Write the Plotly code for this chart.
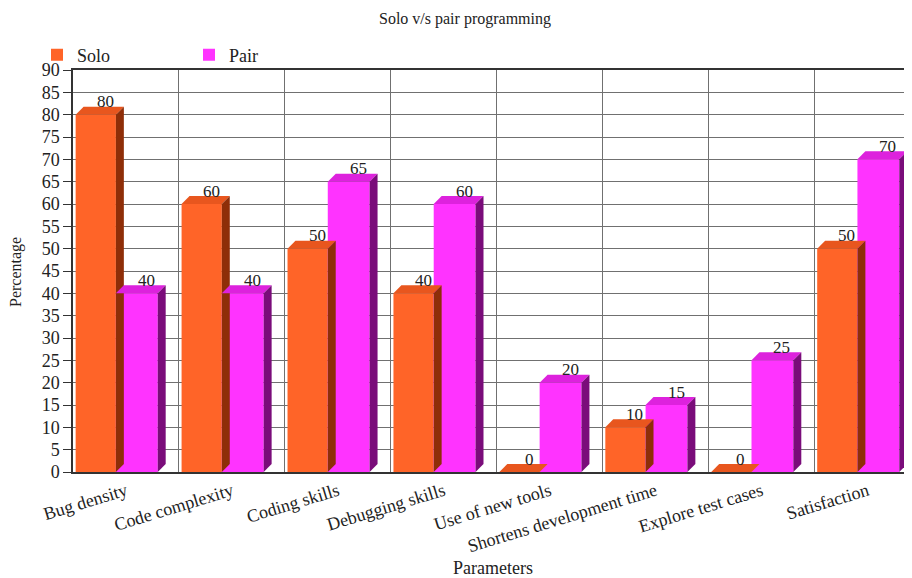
import plotly.graph_objects as go

categories = ["Bug density", "Code complexity", "Coding skills", "Debugging skills",
              "Use of new tools", "Shortens development time", "Explore test cases", "Satisfaction"]
solo = [80, 60, 50, 40, 0, 10, 0, 50]
pair = [40, 40, 65, 60, 20, 15, 25, 70]
y_ticks = list(range(0, 95, 5))

FONT = "Liberation Serif"
series = [
    # name, values, offset, width, front, top, side
    ("Solo", solo, -0.475, 0.38, "#FF6428", "#E8561E", "#8E2E08"),
    ("Pair", pair, -0.095, 0.395, "#FF33FF", "#DD22DD", "#7A0C7A"),
]
DX, DY = 0.075, 1.8

# page body adds an 8px offset; layout is expressed in figure pixels
L, T, PH = 65, 62, 402

fig = go.Figure()
shapes = []
annotations = []
for name, vals, off, wid, front, top, side in series:
    fig.add_trace(go.Bar(
        x=categories, y=vals, name=name, offset=off, width=wid,
        marker=dict(color=front, line=dict(width=0)),
    ))
    for i, v in enumerate(vals):
        x0 = i + off
        x1 = x0 + wid
        shapes.append(dict(
            type="path", xref="x", yref="y", layer="above",
            path=f"M {x0},{v} L {x0+DX},{v+DY} L {x1+DX},{v+DY} L {x1},{v} Z",
            fillcolor=top, line=dict(width=0),
        ))
        shapes.append(dict(
            type="path", xref="x", yref="y", layer="above",
            path=f"M {x1},0 L {x1+DX},{DY} L {x1+DX},{v+DY} L {x1},{v} Z",
            fillcolor=side, line=dict(width=0),
        ))
        annotations.append(dict(
            x=x0 + wid / 2 + 0.09, y=v, xref="x", yref="y", text=str(v),
            showarrow=False, yanchor="middle", yshift=13,
            font=dict(family=FONT, size=17, color="#222"),
        ))

annotations.append(dict(
    text="Parameters", x=0.5, y=-(560 - (T + PH)) / PH, xref="paper", yref="paper",
    showarrow=False, yanchor="middle", font=dict(family=FONT, size=18, color="#222"),
))
annotations.append(dict(
    text="Percentage", x=-(L - 8) / 839, y=(T + PH - 264) / PH, xref="paper", yref="paper",
    showarrow=False, xanchor="center", yanchor="middle", textangle=-90,
    font=dict(family=FONT, size=16, color="#222"),
))

fig.update_layout(
    width=912, height=578,
    margin=dict(l=L, r=8, t=T, b=578 - T - PH, autoexpand=False),
    paper_bgcolor="white", plot_bgcolor="white",
    barmode="overlay",
    font=dict(family=FONT, size=17, color="#222"),
    title=dict(text="Solo v/s pair programming", x=(465 - 8) / 912, xref="container", xanchor="center",
               y=1 - 10 / 578, yref="container", yanchor="middle",
               font=dict(family=FONT, size=16, color="#222")),
    legend=dict(orientation="h", x=29 / 912, y=1 - 47 / 578, xref="container", yref="container",
                xanchor="left", yanchor="middle",
                font=dict(family=FONT, size=18, color="#222"),
                itemwidth=30, entrywidth=107, entrywidthmode="pixels",
                bgcolor="rgba(0,0,0,0)"),
    shapes=shapes,
    annotations=annotations,
    xaxis=dict(
        range=[-0.5, 7.42], tickangle=-17, tickson="boundaries", automargin=False,
        showgrid=True, gridcolor="#707070", gridwidth=1,
        showline=True, linecolor="#333", linewidth=1.5, mirror=True,
        ticks="", tickfont=dict(family=FONT, size=18),
    ),
    yaxis=dict(
        automargin=False,
        range=[0, 90], tickvals=y_ticks, ticktext=[str(t) for t in y_ticks],
        showgrid=True, gridcolor="#707070", gridwidth=1,
        showline=True, linecolor="#333", linewidth=1.5,
        ticks="outside", ticklen=8, tickcolor="#333",
        tickfont=dict(family=FONT, size=18), zeroline=False,
    ),
)

fig.write_html("out.html")
